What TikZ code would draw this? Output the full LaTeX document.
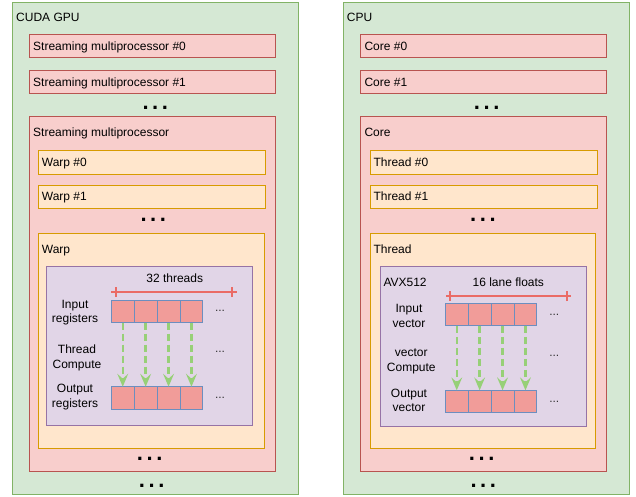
\documentclass[tikz,border=0pt]{standalone}
\usepackage{fontspec}
\setmainfont{Liberation Sans}
\usetikzlibrary{arrows.meta}
\definecolor{gfill}{HTML}{D5E8D4}
\definecolor{gline}{HTML}{82B366}
\definecolor{rfill}{HTML}{F8CECC}
\definecolor{rline}{HTML}{B85450}
\definecolor{ofill}{HTML}{FFE6CC}
\definecolor{oline}{HTML}{D79B00}
\definecolor{pfill}{HTML}{E1D5E7}
\definecolor{pline}{HTML}{9673A6}
\definecolor{cfill}{HTML}{F19C99}
\definecolor{cline}{HTML}{6C8EBF}
\definecolor{dimcol}{HTML}{EA6B66}
\definecolor{arrcol}{HTML}{97D077}
\tikzset{
  box/.style={rectangle, inner sep=0pt, outer sep=0pt, anchor=north west, line width=1pt},
  gbox/.style={box, fill=gfill, draw=gline},
  rbox/.style={box, fill=rfill, draw=rline},
  obox/.style={box, fill=ofill, draw=oline},
  pbox/.style={box, fill=pfill, draw=pline},
  cell/.style={box, fill=cfill, draw=cline, minimum width=22.9pt, minimum height=22.6pt},
  lbl/.style={inner sep=0pt, anchor=base west},
  clbl/.style={inner sep=0pt, anchor=base},
  mlbl/.style={inner sep=0pt, anchor=center, align=center},
  bigdots/.style={inner sep=0pt, anchor=base, font=\fontsize{22}{24}\bfseries},
  smalldots/.style={inner sep=0pt, anchor=base, text=black!80},
  dimline/.style={draw=dimcol, line width=2pt},
  flow/.style={draw=arrcol, line width=2.5pt, dash pattern=on 7pt off 4pt,
    -{Stealth[length=13pt, width=11pt, inset=5pt, line width=0pt]}},
}
\newcommand{\bigdotstext}{.\kern3.6pt.\kern3.6pt.}
\begin{document}
\begin{tikzpicture}[x=1pt, y=-1pt, font=\fontsize{12}{14.4}\selectfont]
\useasboundingbox (0,0) rectangle (636,497);

% ================= LEFT: CUDA GPU =================
\node[gbox, minimum width=286pt, minimum height=491pt] (gpu) at (12,3) {};
\node[lbl] (gpuL) at (16,22) {CUDA GPU};
\node[rbox, minimum width=246pt, minimum height=23pt] (sm0) at (29,35) {};
\node[lbl] (sm0L) at (33,50.8) {Streaming multiprocessor \#0};
\node[rbox, minimum width=246pt, minimum height=23pt] (sm1) at (29,71) {};
\node[lbl] (sm1L) at (33,86.8) {Streaming multiprocessor \#1};
\node[bigdots] (gd1) at (155.3,109.2) {\bigdotstext};
\node[rbox, minimum width=246pt, minimum height=354pt] (sm) at (29,117) {};
\node[lbl] (smL) at (33,137) {Streaming multiprocessor};
\node[obox, minimum width=227pt, minimum height=23pt] (w0) at (38,151) {};
\node[lbl] (w0L) at (41.7,166.8) {Warp \#0};
\node[obox, minimum width=227pt, minimum height=23pt] (w1) at (38,185) {};
\node[lbl] (w1L) at (41.7,200.8) {Warp \#1};
\node[bigdots] (gd2) at (153.3,221.5) {\bigdotstext};
\node[obox, minimum width=226pt, minimum height=215pt] (w) at (38,233) {};
\node[lbl] (wL) at (41.7,253.6) {Warp};
\node[pbox, minimum width=206pt, minimum height=159.5pt] (pg) at (46,266) {};
\node[clbl] (thr) at (174.7,282.6) {32 threads};
% dimension line
\coordinate (gdA) at (111,292);
\coordinate (gdB) at (236.7,292);
\coordinate (gtA) at (116,292);
\coordinate (gtB) at (231.7,292);
\draw[dimline] (gdA) -- (gdB);
\draw[dimline] ([yshift=-5pt]gtA) -- ([yshift=5pt]gtA);
\draw[dimline] ([yshift=-5pt]gtB) -- ([yshift=5pt]gtB);
% cells
\foreach \i in {0,1,2,3}{
  \node[cell] (gi\i) at ({111.3+22.9*\i},300) {};
  \node[cell] (go\i) at ({111.3+22.9*\i},386.7) {};
}
\foreach \i in {0,1,2,3}{
  \draw[flow] (gi\i.south) -- (go\i.north);
}
\node[mlbl] (gin) at (75,312.5) {Input\\registers};
\node[mlbl] (gcomp) at (77,358) {Thread\\Compute};
\node[mlbl] (gout) at (75,397) {Output\\registers};
\node[smalldots] (gs1) at (220,311) {...};
\node[smalldots] (gs2) at (220,352.7) {...};
\node[smalldots] (gs3) at (220,398) {...};
\node[bigdots] (gd3) at (149.7,460.8) {\bigdotstext};
\node[bigdots] (gd4) at (151.7,487.2) {\bigdotstext};

% ================= RIGHT: CPU =================
\node[gbox, minimum width=286pt, minimum height=491pt] (cpu) at (343.3,3) {};
\node[lbl] (cpuL) at (346.7,22) {CPU};
\node[rbox, minimum width=246pt, minimum height=23pt] (c0) at (360.7,35) {};
\node[lbl] (c0L) at (364.3,50.8) {Core \#0};
\node[rbox, minimum width=246pt, minimum height=23pt] (c1) at (360.7,71) {};
\node[lbl] (c1L) at (364.3,86.8) {Core \#1};
\node[bigdots] (cd1) at (486.7,109.2) {\bigdotstext};
\node[rbox, minimum width=246pt, minimum height=354pt] (core) at (360.7,117) {};
\node[lbl] (coreL) at (364.3,137) {Core};
\node[obox, minimum width=227pt, minimum height=23pt] (t0) at (370,151) {};
\node[lbl] (t0L) at (373.3,166.8) {Thread \#0};
\node[obox, minimum width=227pt, minimum height=23pt] (t1) at (370,185) {};
\node[lbl] (t1L) at (373.3,200.8) {Thread \#1};
\node[bigdots] (cd2) at (483,221.5) {\bigdotstext};
\node[obox, minimum width=225.5pt, minimum height=215pt] (t) at (370,233) {};
\node[lbl] (tL) at (373.3,253.6) {Thread};
\node[pbox, minimum width=205.7pt, minimum height=160pt] (pc) at (380.3,266) {};
\node[lbl] (avx) at (383.3,286) {AVX512};
\node[clbl] (lanes) at (508.3,286) {16 lane floats};
\coordinate (cdA) at (446,296);
\coordinate (cdB) at (570.7,296);
\coordinate (ctA) at (450,296);
\coordinate (ctB) at (566.7,296);
\draw[dimline] (cdA) -- (cdB);
\draw[dimline] ([yshift=-5pt]ctA) -- ([yshift=5pt]ctA);
\draw[dimline] ([yshift=-5pt]ctB) -- ([yshift=5pt]ctB);
\foreach \i in {0,1,2,3}{
  \node[cell] (ci\i) at ({445.3+22.9*\i},303.3) {};
  \node[cell] (co\i) at ({445.3+22.9*\i},390.3) {};
}
\foreach \i in {0,1,2,3}{
  \draw[flow] (ci\i.south) -- (co\i.north);
}
\node[mlbl] (cin) at (409,316) {Input\\vector};
\node[mlbl] (ccomp) at (411.3,361.5) {vector\\Compute};
\node[mlbl] (cout) at (409,400.5) {Output\\vector};
\node[smalldots] (cs1) at (554.3,315) {...};
\node[smalldots] (cs2) at (554.3,356.7) {...};
\node[smalldots] (cs3) at (554.3,402.7) {...};
\node[bigdots] (cd3) at (481.7,460.8) {\bigdotstext};
\node[bigdots] (cd4) at (483.3,487.2) {\bigdotstext};
\end{tikzpicture}
\end{document}
